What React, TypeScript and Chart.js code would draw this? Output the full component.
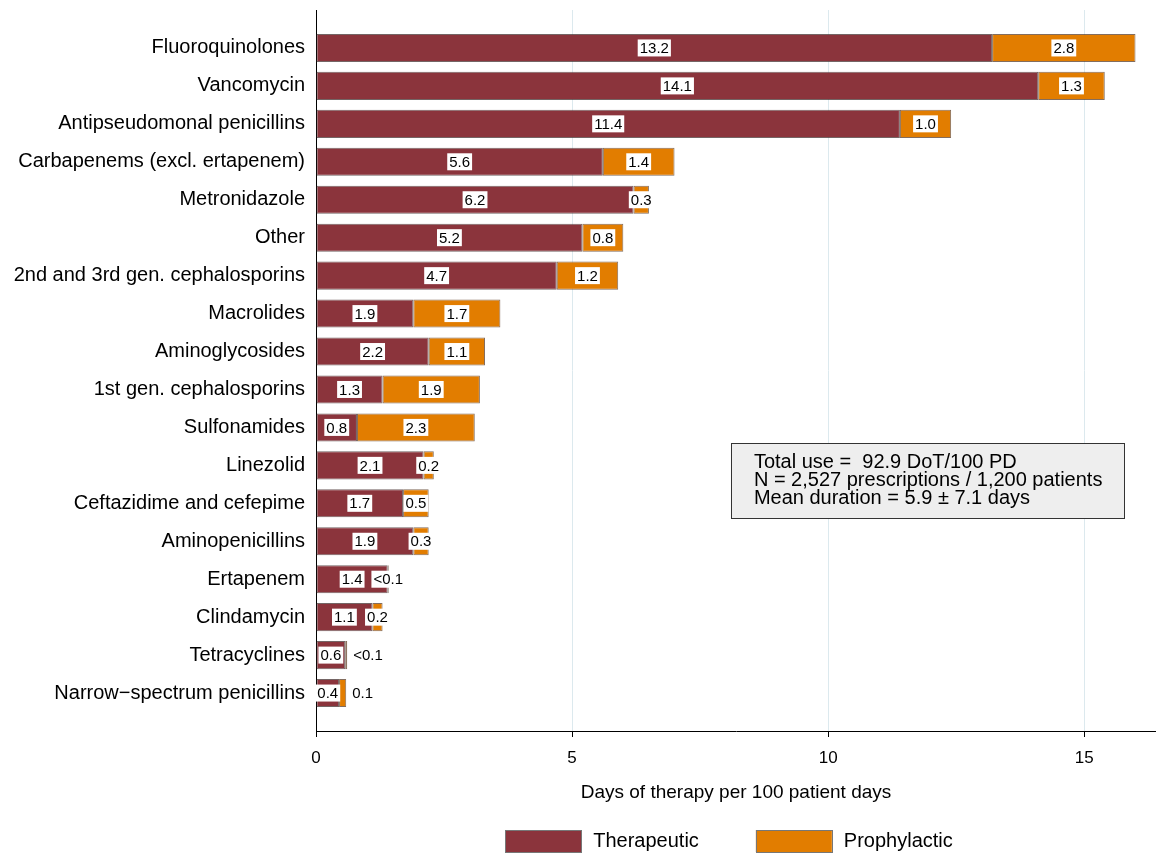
import React, { useEffect, useRef } from 'react';
import { Chart, registerables } from 'chart.js';

Chart.register(...registerables);

const FONT = '"Liberation Sans", Arial, Helvetica, sans-serif';

const categories = [
  'Fluoroquinolones',
  'Vancomycin',
  'Antipseudomonal penicillins',
  'Carbapenems (excl. ertapenem)',
  'Metronidazole',
  'Other',
  '2nd and 3rd gen. cephalosporins',
  'Macrolides',
  'Aminoglycosides',
  '1st gen. cephalosporins',
  'Sulfonamides',
  'Linezolid',
  'Ceftazidime and cefepime',
  'Aminopenicillins',
  'Ertapenem',
  'Clindamycin',
  'Tetracyclines',
  'Narrow\u2212spectrum penicillins',
];

const therapeutic = [13.2, 14.1, 11.4, 5.6, 6.2, 5.2, 4.7, 1.9, 2.2, 1.3, 0.8, 2.1, 1.7, 1.9, 1.4, 1.1, 0.57, 0.45];
const prophylactic = [2.8, 1.3, 1.0, 1.4, 0.3, 0.8, 1.2, 1.7, 1.1, 1.9, 2.3, 0.2, 0.5, 0.3, 0.02, 0.2, 0.04, 0.14];

const therapeuticLabels = ['13.2', '14.1', '11.4', '5.6', '6.2', '5.2', '4.7', '1.9', '2.2', '1.3', '0.8', '2.1', '1.7', '1.9', '1.4', '1.1', '0.6', '0.4'];
const prophylacticLabels = ['2.8', '1.3', '1.0', '1.4', '0.3', '0.8', '1.2', '1.7', '1.1', '1.9', '2.3', '0.2', '0.5', '0.3', '<0.1', '0.2', '<0.1', '0.1'];

const xTicks = [0, 5, 10, 15];
const xMax = 16.4;

const seriesNames = ['Therapeutic', 'Prophylactic'];
const seriesColors = ['#8b343c', '#e27d00'];

const annotationLines = [
  'Total use =  92.9 DoT/100 PD',
  'N = 2,527 prescriptions / 1,200 patients',
  'Mean duration = 5.9 \u00b1 7.1 days',
];
// annotation box extents in data units (x) and category index units (y, padded labels)
const annotationX = [8.1, 15.78];
const annotationY = [11.42, 13.4];

const paddedLabels = ['', ...categories, ''];
const pad = (arr: number[]) => [null, ...arr, null];

const valueLabelPlugin = {
  id: 'valueLabels',
  afterDatasetsDraw(chart: any) {
    const ctx = chart.ctx;
    const labelSets = [therapeuticLabels, prophylacticLabels];
    ctx.save();
    ctx.font = `15px ${FONT}`;
    ctx.textBaseline = 'middle';
    for (let d = 0; d < 2; d++) {
      const meta = chart.getDatasetMeta(d);
      meta.data.forEach((el: any, j: number) => {
        if (j === 0 || j === paddedLabels.length - 1) return;
        const text = labelSets[d][j - 1];
        if (!text) return;
        const x0 = Math.min(el.x, el.base);
        const x1 = Math.max(el.x, el.base);
        const w = ctx.measureText(text).width;
        let outside = false;
        if (d === 1) {
          const tEl = chart.getDatasetMeta(0).data[j];
          const tW = Math.abs(tEl.x - tEl.base);
          if (x1 - x0 < 10 && tW < 40) outside = true;
        }
        if (outside) {
          ctx.fillStyle = '#000';
          ctx.textAlign = 'left';
          ctx.fillText(text, x1 + 6, el.y + 1);
        } else {
          const cx = (x0 + x1) / 2;
          ctx.fillStyle = '#fff';
          ctx.fillRect(cx - w / 2 - 2, el.y - 8.5, w + 4, 17);
          ctx.fillStyle = '#000';
          ctx.textAlign = 'center';
          ctx.fillText(text, cx, el.y + 1);
        }
      });
    }
    ctx.restore();
  },
};

const extrasPlugin = {
  id: 'extras',
  afterDraw(chart: any) {
    const ctx = chart.ctx;
    const xs = chart.scales.x;
    const ys = chart.scales.y;
    ctx.save();
    // annotation box
    const left = xs.getPixelForValue(annotationX[0]);
    const right = xs.getPixelForValue(annotationX[1]);
    const top = ys.getPixelForValue(annotationY[0]);
    const bottom = ys.getPixelForValue(annotationY[1]);
    ctx.fillStyle = '#eeeeee';
    ctx.fillRect(left, top, right - left, bottom - top);
    ctx.strokeStyle = '#333';
    ctx.lineWidth = 1;
    ctx.strokeRect(Math.round(left) + 0.5, Math.round(top) + 0.5, Math.round(right - left), Math.round(bottom - top));
    ctx.fillStyle = '#000';
    ctx.font = `20px ${FONT}`;
    ctx.textAlign = 'left';
    ctx.textBaseline = 'middle';
    const midY = (top + bottom) / 2;
    annotationLines.forEach((line, i) => {
      ctx.fillText(line, left + 23, midY + (i - 1) * 18);
    });

    // legend
    const area = chart.chartArea;
    const boxW = 76;
    const boxH = 22;
    const gapText = 12;
    const gapItem = 57;
    ctx.font = `20px ${FONT}`;
    const widths = seriesNames.map((n) => ctx.measureText(n).width);
    const total = boxW * 2 + gapText * 2 + widths[0] + widths[1] + gapItem;
    let x = (area.left + area.right) / 2 - 7 - total / 2;
    const cy = 841;
    seriesNames.forEach((name, i) => {
      ctx.fillStyle = seriesColors[i];
      ctx.fillRect(x, cy - boxH / 2, boxW, boxH);
      ctx.strokeStyle = '#777';
      ctx.lineWidth = 1;
      ctx.strokeRect(Math.round(x) + 0.5, Math.round(cy - boxH / 2) + 0.5, boxW, boxH);
      ctx.fillStyle = '#000';
      ctx.fillText(name, x + boxW + gapText, cy);
      x += boxW + gapText + widths[i] + gapItem;
    });
    ctx.restore();
  },
};

export default function App() {
  const canvasRef = useRef<HTMLCanvasElement | null>(null);

  useEffect(() => {
    document.body.style.margin = '0';
    const canvas = canvasRef.current;
    if (!canvas) return;
    const chart = new Chart(canvas, {
      type: 'bar',
      data: {
        labels: paddedLabels,
        datasets: [
          {
            label: seriesNames[0],
            data: pad(therapeutic) as any,
            backgroundColor: seriesColors[0],
            borderColor: 'rgba(70,50,50,0.75)',
            borderWidth: 1,
            borderSkipped: false,
          },
          {
            label: seriesNames[1],
            data: pad(prophylactic) as any,
            backgroundColor: seriesColors[1],
            borderColor: 'rgba(90,60,40,0.75)',
            borderWidth: 1,
            borderSkipped: false,
          },
        ],
      },
      options: {
        indexAxis: 'y',
        animation: false,
        responsive: true,
        maintainAspectRatio: false,
        layout: { padding: { top: 10, left: 0, right: 0, bottom: 0 } },
        datasets: {
          bar: { categoryPercentage: 1, barPercentage: 0.74 },
        },
        plugins: {
          legend: { display: false },
          tooltip: { enabled: false },
        },
        scales: {
          x: {
            type: 'linear',
            stacked: true,
            min: 0,
            max: xMax,
            afterBuildTicks: (s: any) => {
              s.ticks = xTicks.map((v) => ({ value: v }));
            },
            afterFit: (s: any) => {
              s.height = 124;
              s.paddingLeft = 0;
              s.paddingRight = 0;
            },
            ticks: {
              font: { family: FONT, size: 17 },
              color: '#000',
              padding: 11,
            },
            grid: {
              color: (c: any) => (c.tick && c.tick.value === 0 ? 'rgba(0,0,0,0)' : '#dce9ee'),
              tickColor: '#000',
              tickLength: 6,
              lineWidth: 1,
            },
            border: { display: true, color: '#000', width: 1 },
            title: {
              display: true,
              text: 'Days of therapy per 100 patient days',
              font: { family: FONT, size: 19 },
              color: '#000',
              padding: { top: 0, bottom: 51 },
            },
          },
          y: {
            type: 'category',
            stacked: true,
            offset: false,
            grid: { display: false, drawTicks: false },
            border: { display: true, color: '#000', width: 1 },
            afterFit: (s: any) => {
              s.width = 316;
              s.paddingTop = 0;
              s.paddingBottom = 0;
            },
            ticks: {
              font: { family: FONT, size: 20 },
              color: '#000',
              padding: 11,
              autoSkip: false,
            },
          },
        },
      },
      plugins: [valueLabelPlugin, extrasPlugin],
    });
    return () => chart.destroy();
  }, []);

  return (
    <div style={{ width: 1156, height: 855, position: 'relative', background: '#fff' }}>
      <canvas ref={canvasRef} />
    </div>
  );
}
